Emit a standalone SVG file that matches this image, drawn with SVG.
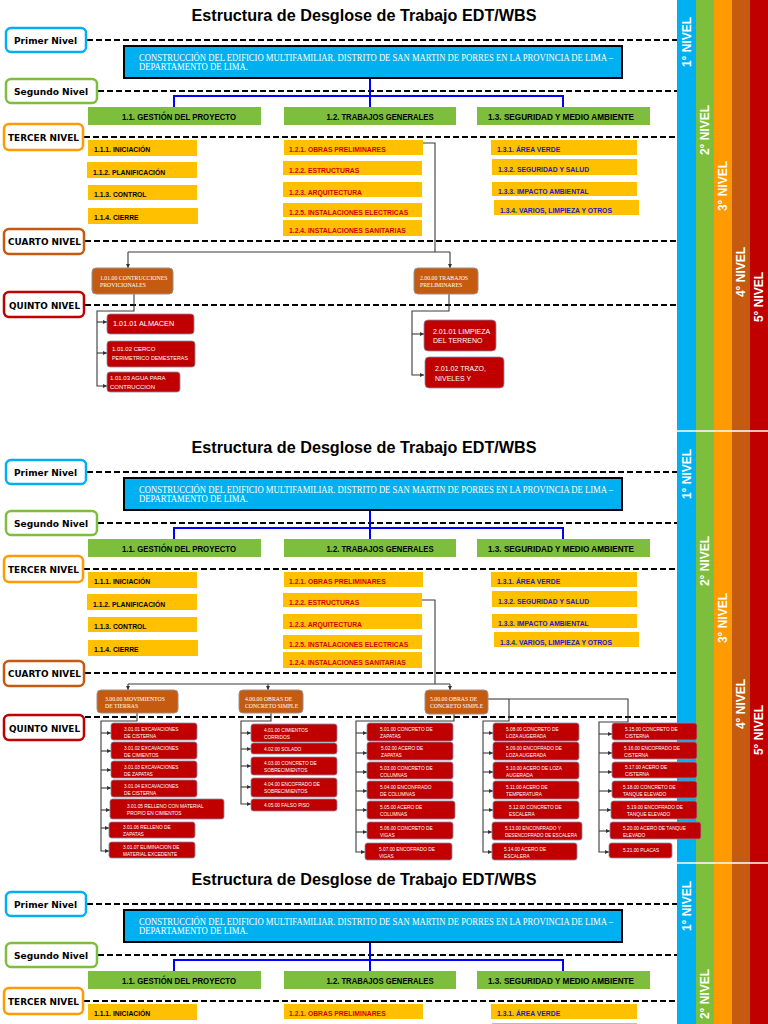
<svg xmlns="http://www.w3.org/2000/svg" width="768" height="1024" viewBox="0 0 768 1024">
<style>
.bg{fill:#fff}
.ttl{font-family:"Liberation Sans",Arial,sans-serif;font-weight:bold;font-size:16px;fill:#000;text-anchor:middle}
.lvl{fill:#fff;stroke-width:2.5}
.lvlt{font-family:"DejaVu Sans",Verdana,sans-serif;font-weight:bold;font-size:9px;fill:#000}
.dash{stroke:#000;stroke-width:2;stroke-dasharray:6 3;fill:none}
.top{fill:#00B0F0;stroke:#000;stroke-width:2}
.topt{font-family:"Liberation Serif","Times New Roman",serif;font-size:9.5px;fill:#fff}
.g2{fill:#7DBE3C}
.g2t{font-family:"Liberation Sans",Arial,sans-serif;font-weight:bold;font-size:9.5px;fill:#000;text-anchor:middle}
.y3{fill:#FFC000}
.y3t{font-family:"Liberation Sans",Arial,sans-serif;font-weight:bold;font-size:6.8px}
.tk{fill:#000}.tr{fill:#D00000}.tb{fill:#1A1AC8}
.n4{fill:#C55A11;stroke:#9a8f8a;stroke-width:1}
.n4t{font-family:"Liberation Serif","Times New Roman",serif;font-size:5.8px;fill:#fff}
.n5{fill:#C00000;stroke:#8a8aa8;stroke-width:0.8}
.n5t{font-family:"Liberation Sans",Arial,sans-serif;font-size:6px;fill:#fff}
.n5s{font-family:"Liberation Sans",Arial,sans-serif;font-size:4.8px;fill:#fff}
.blue{stroke:#0000FF;stroke-width:2;fill:none}
.con{stroke:#3a3a3a;stroke-width:1.1;fill:none}
.arr{marker-end:url(#ah)}
.bart{font-family:"Liberation Sans",Arial,sans-serif;font-weight:bold;font-size:12px;fill:#fff;text-anchor:middle}
</style>
<defs>
<marker id="ah" viewBox="0 0 8 8" refX="8" refY="4" markerWidth="4.5" markerHeight="4.5" orient="auto" markerUnits="userSpaceOnUse"><path d="M0,0 L8,4 L0,8 z" fill="#333"/></marker>
</defs>
<rect class="bg" x="0" y="0" width="768" height="1024"/>

<!-- level bars -->
<g id="level-bars">
<rect x="677" y="0" width="19" height="1024" fill="#00B0F0"/>
<rect x="696" y="0" width="18" height="1024" fill="#7DBE3C"/>
<rect x="714" y="0" width="18" height="1024" fill="#FF9A00"/>
<rect x="732" y="0" width="18" height="1024" fill="#C55A11"/>
<rect x="750" y="0" width="18" height="1024" fill="#C00000"/>
<line x1="677" y1="431" x2="768" y2="431" stroke="#fff" stroke-width="1.5"/>
<line x1="677" y1="863" x2="768" y2="863" stroke="#fff" stroke-width="1.5"/>
<text class="bart" transform="translate(691.3,42) rotate(-90)">1° NIVEL</text>
<text class="bart" transform="translate(709.3,130) rotate(-90)">2° NIVEL</text>
<text class="bart" transform="translate(727.3,186) rotate(-90)">3° NIVEL</text>
<text class="bart" transform="translate(745.3,272) rotate(-90)">4° NIVEL</text>
<text class="bart" transform="translate(763.3,297) rotate(-90)">5° NIVEL</text>
<text class="bart" transform="translate(691.3,474) rotate(-90)">1° NIVEL</text>
<text class="bart" transform="translate(709.3,561) rotate(-90)">2° NIVEL</text>
<text class="bart" transform="translate(727.3,618) rotate(-90)">3° NIVEL</text>
<text class="bart" transform="translate(745.3,704) rotate(-90)">4° NIVEL</text>
<text class="bart" transform="translate(763.3,730) rotate(-90)">5° NIVEL</text>
<text class="bart" transform="translate(691.3,906) rotate(-90)">1° NIVEL</text>
<text class="bart" transform="translate(709.3,994) rotate(-90)">2° NIVEL</text>
</g>

<!-- titles -->
<g id="titles">
<text class="ttl" x="364" y="21" textLength="345" lengthAdjust="spacingAndGlyphs">Estructura de Desglose de Trabajo EDT/WBS</text>
<text class="ttl" x="364" y="453" textLength="345" lengthAdjust="spacingAndGlyphs">Estructura de Desglose de Trabajo EDT/WBS</text>
<text class="ttl" x="364" y="885" textLength="345" lengthAdjust="spacingAndGlyphs">Estructura de Desglose de Trabajo EDT/WBS</text>
</g>

<!-- guides -->
<g id="level-guides">
<line class="dash" x1="87" y1="40" x2="677" y2="40"/>
<line class="dash" x1="98" y1="91" x2="677" y2="91"/>
<line class="dash" x1="84" y1="137" x2="677" y2="137"/>
<line class="dash" x1="85" y1="241" x2="677" y2="241"/>
<line class="dash" x1="85" y1="305" x2="677" y2="305"/>
<line class="dash" x1="87" y1="472" x2="677" y2="472"/>
<line class="dash" x1="98" y1="523" x2="677" y2="523"/>
<line class="dash" x1="84" y1="569" x2="677" y2="569"/>
<line class="dash" x1="85" y1="673" x2="677" y2="673"/>
<line class="dash" x1="85" y1="717" x2="677" y2="717"/>
<line class="dash" x1="87" y1="904" x2="677" y2="904"/>
<line class="dash" x1="98" y1="955" x2="677" y2="955"/>
<line class="dash" x1="84" y1="1001" x2="677" y2="1001"/>
</g>

<!-- level labels -->
<g id="lbl-primer-1"><rect class="lvl" x="6" y="28" width="80" height="24" rx="5" stroke="#00B0F0"/><text class="lvlt" x="14" y="43.6" textLength="63" lengthAdjust="spacingAndGlyphs">Primer Nivel</text></g>
<g id="lbl-segundo-1"><rect class="lvl" x="6" y="79" width="91" height="24" rx="5" stroke="#7DBE3C"/><text class="lvlt" x="14" y="94.6" textLength="74" lengthAdjust="spacingAndGlyphs">Segundo Nivel</text></g>
<g id="lbl-tercer-1"><rect class="lvl" x="4" y="124" width="79" height="26" rx="5" stroke="#FF9A00"/><text class="lvlt" x="8" y="140.6" textLength="71" lengthAdjust="spacingAndGlyphs">TERCER NIVEL</text></g>
<g id="lbl-cuarto-1"><rect class="lvl" x="4" y="229" width="80" height="25" rx="5" stroke="#C55A11"/><text class="lvlt" x="8" y="245" textLength="73" lengthAdjust="spacingAndGlyphs">CUARTO NIVEL</text></g>
<g id="lbl-quinto-1"><rect class="lvl" x="4" y="292" width="80" height="25" rx="5" stroke="#C00000"/><text class="lvlt" x="9" y="308.6" textLength="71" lengthAdjust="spacingAndGlyphs">QUINTO NIVEL</text></g>
<g id="lbl-primer-2"><rect class="lvl" x="6" y="460" width="80" height="24" rx="5" stroke="#00B0F0"/><text class="lvlt" x="14" y="475.6" textLength="63" lengthAdjust="spacingAndGlyphs">Primer Nivel</text></g>
<g id="lbl-segundo-2"><rect class="lvl" x="6" y="511" width="91" height="24" rx="5" stroke="#7DBE3C"/><text class="lvlt" x="14" y="526.6" textLength="74" lengthAdjust="spacingAndGlyphs">Segundo Nivel</text></g>
<g id="lbl-tercer-2"><rect class="lvl" x="4" y="556" width="79" height="26" rx="5" stroke="#FF9A00"/><text class="lvlt" x="8" y="572.6" textLength="71" lengthAdjust="spacingAndGlyphs">TERCER NIVEL</text></g>
<g id="lbl-cuarto-2"><rect class="lvl" x="4" y="661" width="80" height="25" rx="5" stroke="#C55A11"/><text class="lvlt" x="8" y="677" textLength="73" lengthAdjust="spacingAndGlyphs">CUARTO NIVEL</text></g>
<g id="lbl-quinto-2"><rect class="lvl" x="4" y="715" width="80" height="25" rx="5" stroke="#C00000"/><text class="lvlt" x="9" y="731.6" textLength="71" lengthAdjust="spacingAndGlyphs">QUINTO NIVEL</text></g>
<g id="lbl-primer-3"><rect class="lvl" x="6" y="892" width="80" height="24" rx="5" stroke="#00B0F0"/><text class="lvlt" x="14" y="907.6" textLength="63" lengthAdjust="spacingAndGlyphs">Primer Nivel</text></g>
<g id="lbl-segundo-3"><rect class="lvl" x="6" y="943" width="91" height="24" rx="5" stroke="#7DBE3C"/><text class="lvlt" x="14" y="958.6" textLength="74" lengthAdjust="spacingAndGlyphs">Segundo Nivel</text></g>
<g id="lbl-tercer-3"><rect class="lvl" x="4" y="988" width="79" height="26" rx="5" stroke="#FF9A00"/><text class="lvlt" x="8" y="1004.6" textLength="71" lengthAdjust="spacingAndGlyphs">TERCER NIVEL</text></g>

<!-- connectors -->
<g id="connectors">
<path class="blue" d="M370,78 V107 M174,107 V96 H563 V107"/>
<path class="blue" d="M370,510 V539 M174,539 V528 H563 V539"/>
<path class="blue" d="M370,942 V971 M174,971 V960 H563 V971"/>
<!-- section 1 -->
<path class="con" d="M422,143 H435 V252 M128,252 H450"/>
<path class="con arr" d="M128,252 V268"/>
<path class="con arr" d="M450,252 V268"/>
<path class="con arr" d="M134,294 V311 H97 V386 H107"/>
<path class="con arr" d="M97,322 H107"/>
<path class="con arr" d="M97,353 H107"/>
<path class="con arr" d="M449,294 V311 H412 V375 H424"/>
<path class="con arr" d="M412,334 H424"/>
<!-- section 2 -->
<path class="con" d="M422,600 H435 V684 M128,684 H450"/>
<path class="con arr" d="M128,684 V690"/>
<path class="con arr" d="M268,684 V690"/>
<path class="con arr" d="M450,684 V690"/>
<path class="con arr" d="M137,713 V721 H101 V851 H109"/>
<path class="con arr" d="M101,733 H111"/>
<path class="con arr" d="M101,751 H111"/>
<path class="con arr" d="M101,770 H111"/>
<path class="con arr" d="M101,788 H111"/>
<path class="con arr" d="M101,810 H110"/>
<path class="con arr" d="M101,828 H109"/>
<path class="con arr" d="M271,713 V721 H241 V804 H251"/>
<path class="con arr" d="M241,733 H251"/>
<path class="con arr" d="M241,749 H251"/>
<path class="con arr" d="M241,766 H251"/>
<path class="con arr" d="M241,787 H251"/>
<path class="con arr" d="M454,714 V721 H356 V852 H365"/>
<path class="con arr" d="M356,733 H367"/>
<path class="con arr" d="M356,753 H367"/>
<path class="con arr" d="M356,772 H367"/>
<path class="con arr" d="M356,791 H367"/>
<path class="con arr" d="M356,810 H367"/>
<path class="con arr" d="M356,832 H367"/>
<path class="con arr" d="M509,699 V721 H483 V852 H492"/>
<path class="con" d="M488,699 H509"/>
<path class="con arr" d="M483,733 H493"/>
<path class="con arr" d="M483,753 H493"/>
<path class="con arr" d="M483,772 H493"/>
<path class="con arr" d="M483,791 H493"/>
<path class="con arr" d="M483,810 H493"/>
<path class="con arr" d="M483,832 H492"/>
<path class="con arr" d="M509,699 H628 V722 H599 V852 H609"/>
<path class="con arr" d="M599,734 H612"/>
<path class="con arr" d="M599,753 H612"/>
<path class="con arr" d="M599,772 H612"/>
<path class="con arr" d="M599,791 H612"/>
<path class="con arr" d="M599,810 H611"/>
<path class="con arr" d="M599,831 H610"/>
</g>

<!-- ===== SECTION 1 ===== -->
<g id="root-1"><rect class="top" x="124" y="46" width="498" height="32"/>
<text class="topt" x="139" y="61" textLength="474" lengthAdjust="spacingAndGlyphs">CONSTRUCCIÓN DEL EDIFICIO MULTIFAMILIAR. DISTRITO DE SAN MARTIN DE PORRES EN LA PROVINCIA DE LIMA –</text>
<text class="topt" x="139" y="70" textLength="109" lengthAdjust="spacingAndGlyphs">DEPARTAMENTO DE LIMA.</text></g>
<g id="n1-1-s1"><rect class="g2" x="88" y="107" width="173" height="18"/><text class="g2t" x="179" y="120" textLength="114" lengthAdjust="spacingAndGlyphs">1.1. GESTIÓN DEL PROYECTO</text></g>
<g id="n1-2-s1"><rect class="g2" x="284" y="107" width="172" height="18"/><text class="g2t" x="380" y="120" textLength="107" lengthAdjust="spacingAndGlyphs">1.2. TRABAJOS GENERALES</text></g>
<g id="n1-3-s1"><rect class="g2" x="477" y="107" width="173" height="18"/><text class="g2t" x="561" y="120" textLength="146" lengthAdjust="spacingAndGlyphs">1.3. SEGURIDAD Y MEDIO AMBIENTE</text></g>

<g id="n111-s1"><rect class="y3" x="88" y="140" width="109" height="16"/><text class="y3t tk" x="94" y="151.5">1.1.1. INICIACIÓN</text></g>
<g id="n112-s1"><rect class="y3" x="87" y="162" width="110" height="16"/><text class="y3t tk" x="93" y="174.5">1.1.2. PLANIFICACIÓN</text></g>
<g id="n113-s1"><rect class="y3" x="88" y="185" width="109" height="15"/><text class="y3t tk" x="94" y="196.5">1.1.3. CONTROL</text></g>
<g id="n114-s1"><rect class="y3" x="88" y="208" width="110" height="16"/><text class="y3t tk" x="94" y="220">1.1.4. CIERRE</text></g>
<g id="n121-s1"><rect class="y3" x="284" y="140" width="139" height="15"/><text class="y3t tr" x="289" y="151.5">1.2.1. OBRAS PRELIMINARES</text></g>
<g id="n122-s1"><rect class="y3" x="283" y="161" width="139" height="14"/><text class="y3t tr" x="289" y="172.5">1.2.2. ESTRUCTURAS</text></g>
<g id="n123-s1"><rect class="y3" x="283" y="182" width="139" height="15"/><text class="y3t tr" x="289" y="194.5">1.2.3. ARQUITECTURA</text></g>
<g id="n125-s1"><rect class="y3" x="283" y="203" width="139" height="14"/><text class="y3t tr" x="289" y="214.5">1.2.5. INSTALACIONES ELECTRICAS</text></g>
<g id="n124-s1"><rect class="y3" x="283" y="220" width="139" height="16"/><text class="y3t tr" x="289" y="232.5">1.2.4. INSTALACIONES SANITARIAS</text></g>
<g id="n131-s1"><rect class="y3" x="491" y="140" width="146" height="15"/><text class="y3t tb" x="497" y="151.5">1.3.1. ÁREA VERDE</text></g>
<g id="n132-s1"><rect class="y3" x="492" y="159" width="145" height="16"/><text class="y3t tb" x="498" y="171.5">1.3.2. SEGURIDAD Y SALUD</text></g>
<g id="n133-s1"><rect class="y3" x="492" y="182" width="145" height="14"/><text class="y3t tb" x="498" y="193.5">1.3.3. IMPACTO AMBIENTAL</text></g>
<g id="n134-s1"><rect class="y3" x="494" y="200" width="145" height="15"/><text class="y3t tb" x="500" y="212.5">1.3.4. VARIOS, LIMPIEZA Y OTROS</text></g>

<g id="n10100"><rect class="n4" x="92" y="268" width="81" height="26" rx="4"/><text class="n4t" x="100" y="279.5">1.01.00 CONTRUCCIONES</text><text class="n4t" x="100" y="286.5">PROVICIONALES</text></g>
<g id="n20000"><rect class="n4" x="414" y="268" width="64" height="26" rx="4"/><text class="n4t" x="420" y="279.5">2.00.00 TRABAJOS</text><text class="n4t" x="420" y="286.5">PRELIMINARES</text></g>

<g id="n10101"><rect class="n5" x="107" y="314" width="87" height="20" rx="3"/><text class="n5t" x="113" y="326" style="font-size:7.3px">1.01.01 ALMACEN</text></g>
<g id="n10102"><rect class="n5" x="107" y="341" width="88" height="26" rx="3"/><text class="n5t" x="112" y="350.5">1.01.02 CERCO</text><text class="n5t" x="112" y="360" textLength="76" lengthAdjust="spacingAndGlyphs">PERIMETRICO DEMESTERAS</text></g>
<g id="n10103"><rect class="n5" x="107" y="372" width="73" height="20" rx="3"/><text class="n5t" x="110" y="379.5">1.01.03 AGUA PARA</text><text class="n5t" x="110" y="388.5">CONTRUCCION</text></g>
<g id="n20101"><rect class="n5" x="424" y="320" width="72" height="31" rx="4"/><text class="n5t" x="433" y="333.5" style="font-size:7px">2.01.01 LIMPIEZA</text><text class="n5t" x="433" y="343" style="font-size:7px">DEL TERRENO</text></g>
<g id="n20102"><rect class="n5" x="425" y="357" width="79" height="31" rx="4"/><text class="n5t" x="435" y="371" style="font-size:7px">2.01.02 TRAZO,</text><text class="n5t" x="435" y="381" style="font-size:7px">NIVELES Y</text></g>

<!-- ===== SECTION 2 ===== -->
<g id="root-2"><rect class="top" x="124" y="478" width="498" height="32"/>
<text class="topt" x="139" y="493" textLength="474" lengthAdjust="spacingAndGlyphs">CONSTRUCCIÓN DEL EDIFICIO MULTIFAMILIAR. DISTRITO DE SAN MARTIN DE PORRES EN LA PROVINCIA DE LIMA –</text>
<text class="topt" x="139" y="502" textLength="109" lengthAdjust="spacingAndGlyphs">DEPARTAMENTO DE LIMA.</text></g>
<g id="n1-1-s2"><rect class="g2" x="88" y="539" width="173" height="18"/><text class="g2t" x="179" y="552" textLength="114" lengthAdjust="spacingAndGlyphs">1.1. GESTIÓN DEL PROYECTO</text></g>
<g id="n1-2-s2"><rect class="g2" x="284" y="539" width="172" height="18"/><text class="g2t" x="380" y="552" textLength="107" lengthAdjust="spacingAndGlyphs">1.2. TRABAJOS GENERALES</text></g>
<g id="n1-3-s2"><rect class="g2" x="477" y="539" width="173" height="18"/><text class="g2t" x="561" y="552" textLength="146" lengthAdjust="spacingAndGlyphs">1.3. SEGURIDAD Y MEDIO AMBIENTE</text></g>

<g id="n111-s2"><rect class="y3" x="88" y="572" width="109" height="16"/><text class="y3t tk" x="94" y="583.5">1.1.1. INICIACIÓN</text></g>
<g id="n112-s2"><rect class="y3" x="87" y="594" width="110" height="16"/><text class="y3t tk" x="93" y="606.5">1.1.2. PLANIFICACIÓN</text></g>
<g id="n113-s2"><rect class="y3" x="88" y="617" width="109" height="15"/><text class="y3t tk" x="94" y="628.5">1.1.3. CONTROL</text></g>
<g id="n114-s2"><rect class="y3" x="88" y="640" width="110" height="16"/><text class="y3t tk" x="94" y="652">1.1.4. CIERRE</text></g>
<g id="n121-s2"><rect class="y3" x="284" y="572" width="139" height="15"/><text class="y3t tr" x="289" y="583.5">1.2.1. OBRAS PRELIMINARES</text></g>
<g id="n122-s2"><rect class="y3" x="283" y="593" width="139" height="14"/><text class="y3t tr" x="289" y="604.5">1.2.2. ESTRUCTURAS</text></g>
<g id="n123-s2"><rect class="y3" x="283" y="614" width="139" height="15"/><text class="y3t tr" x="289" y="626.5">1.2.3. ARQUITECTURA</text></g>
<g id="n125-s2"><rect class="y3" x="283" y="635" width="139" height="14"/><text class="y3t tr" x="289" y="646.5">1.2.5. INSTALACIONES ELECTRICAS</text></g>
<g id="n124-s2"><rect class="y3" x="283" y="652" width="139" height="16"/><text class="y3t tr" x="289" y="664.5">1.2.4. INSTALACIONES SANITARIAS</text></g>
<g id="n131-s2"><rect class="y3" x="491" y="572" width="146" height="15"/><text class="y3t tb" x="497" y="583.5">1.3.1. ÁREA VERDE</text></g>
<g id="n132-s2"><rect class="y3" x="492" y="591" width="145" height="16"/><text class="y3t tb" x="498" y="603.5">1.3.2. SEGURIDAD Y SALUD</text></g>
<g id="n133-s2"><rect class="y3" x="492" y="614" width="145" height="14"/><text class="y3t tb" x="498" y="625.5">1.3.3. IMPACTO AMBIENTAL</text></g>
<g id="n134-s2"><rect class="y3" x="494" y="632" width="145" height="15"/><text class="y3t tb" x="500" y="644.5">1.3.4. VARIOS, LIMPIEZA Y OTROS</text></g>

<g id="n30000"><rect class="n4" x="97" y="690" width="81" height="23" rx="4"/><text class="n4t" x="105" y="700.5">3.00.00 MOVIMIENTOS</text><text class="n4t" x="105" y="707.5">DE TIERRAS</text></g>
<g id="n40000"><rect class="n4" x="239" y="690" width="64" height="23" rx="4"/><text class="n4t" x="245" y="700.5">4.00.00 OBRAS DE</text><text class="n4t" x="245" y="707.5">CONCRETO SIMPLE</text></g>
<g id="n50000"><rect class="n4" x="425" y="690" width="63" height="24" rx="4"/><text class="n4t" x="430" y="700.5">5.00.00 OBRAS DE</text><text class="n4t" x="430" y="708">CONCRETO SIMPLE</text></g>

<g id="n30101"><rect class="n5" x="111" y="723" width="86" height="17" rx="2.5"/><text class="n5s" x="124" y="730.5">3.01.01 EXCAVACIONES</text><text class="n5s" x="124" y="737.5">DE CISTERNA</text></g>
<g id="n30102"><rect class="n5" x="111" y="742" width="86" height="17" rx="2.5"/><text class="n5s" x="124" y="749.5">3.01.02 EXCAVACIONES</text><text class="n5s" x="124" y="756.5">DE CIMIENTOS</text></g>
<g id="n30103"><rect class="n5" x="111" y="761" width="86" height="17" rx="2.5"/><text class="n5s" x="124" y="768.5">3.01.03 EXCAVACIONES</text><text class="n5s" x="124" y="775.5">DE ZAPATAS</text></g>
<g id="n30104"><rect class="n5" x="111" y="780" width="86" height="17" rx="2.5"/><text class="n5s" x="124" y="787.5">3.01.04 EXCAVACIONES</text><text class="n5s" x="124" y="794.5">DE CISTERNA</text></g>
<g id="n30105"><rect class="n5" x="110" y="799" width="114" height="20" rx="2.5"/><text class="n5s" x="127" y="807.5">3.01.05 RELLENO CON MATERIAL</text><text class="n5s" x="127" y="814.5">PROPIO EN CIMIENTOS</text></g>
<g id="n30106"><rect class="n5" x="109" y="822" width="86" height="16" rx="2.5"/><text class="n5s" x="123" y="828.5">3.01.06 RELLENO DE</text><text class="n5s" x="123" y="836">ZAPATAS</text></g>
<g id="n30107"><rect class="n5" x="109" y="842" width="86" height="16" rx="2.5"/><text class="n5s" x="123" y="849">3.01.07 ELIMINACION DE</text><text class="n5s" x="123" y="856">MATERIAL EXCEDENTE</text></g>

<g id="n40100"><rect class="n5" x="251" y="724" width="86" height="18" rx="2.5"/><text class="n5s" x="264" y="731.5">4.01.00 CIMIENTOS</text><text class="n5s" x="264" y="738.5">CORRIDOS</text></g>
<g id="n40200"><rect class="n5" x="251" y="743" width="86" height="11" rx="2.5"/><text class="n5s" x="264" y="750.5">4.02.00 SOLADO</text></g>
<g id="n40300"><rect class="n5" x="251" y="757" width="86" height="18" rx="2.5"/><text class="n5s" x="264" y="764.5">4.03.00 CONCRETO DE</text><text class="n5s" x="264" y="771.5">SOBRECIMIENTOS</text></g>
<g id="n40400"><rect class="n5" x="251" y="778" width="86" height="19" rx="2.5"/><text class="n5s" x="264" y="785.5">4.04.00 ENCOFRADO DE</text><text class="n5s" x="264" y="793">SOBRECIMIENTOS</text></g>
<g id="n40500"><rect class="n5" x="251" y="799" width="86" height="12" rx="2.5"/><text class="n5s" x="264" y="806.5">4.05.00 FALSO PISO</text></g>

<g id="n50100"><rect class="n5" x="367" y="723" width="86" height="18" rx="2.5"/><text class="n5s" x="380" y="730.5">5.01.00 CONCRETO DE</text><text class="n5s" x="380" y="737.5">ZAPATAS</text></g>
<g id="n50200"><rect class="n5" x="367" y="742" width="86" height="18" rx="2.5"/><text class="n5s" x="381" y="749.5">5.02.00 ACERO DE</text><text class="n5s" x="381" y="756.5">ZAPATAS</text></g>
<g id="n50300"><rect class="n5" x="367" y="762" width="86" height="17" rx="2.5"/><text class="n5s" x="380" y="769.5">5.03.00 CONCRETO DE</text><text class="n5s" x="380" y="776.5">COLUMNAS</text></g>
<g id="n50400"><rect class="n5" x="367" y="781" width="86" height="18" rx="2.5"/><text class="n5s" x="380" y="788.5">5.04.00 ENCONFRADO</text><text class="n5s" x="380" y="795.5">DE COLUMNAS</text></g>
<g id="n50500"><rect class="n5" x="367" y="801" width="88" height="18" rx="2.5"/><text class="n5s" x="380" y="808.5">5.05.00 ACERO DE</text><text class="n5s" x="380" y="815.5">COLUMNAS</text></g>
<g id="n50600"><rect class="n5" x="367" y="822" width="86" height="17" rx="2.5"/><text class="n5s" x="380" y="829.5">5.06.00 CONCRETO DE</text><text class="n5s" x="380" y="836.5">VIGAS</text></g>
<g id="n50700"><rect class="n5" x="365" y="843" width="87" height="17" rx="2.5"/><text class="n5s" x="379" y="850.5">5.07.00 ENCOFRADO DE</text><text class="n5s" x="379" y="857.5">VIGAS</text></g>

<g id="n50800"><rect class="n5" x="493" y="723" width="86" height="18" rx="2.5"/><text class="n5s" x="506" y="730.5">5.08.00 CONCRETO DE</text><text class="n5s" x="506" y="737.5">LOZA AUGERADA</text></g>
<g id="n50900"><rect class="n5" x="493" y="742" width="86" height="18" rx="2.5"/><text class="n5s" x="506" y="749.5">5.09.00 ENCOFRADO DE</text><text class="n5s" x="506" y="756.5">LOZA AUGERADA</text></g>
<g id="n51000"><rect class="n5" x="493" y="762" width="86" height="17" rx="2.5"/><text class="n5s" x="506" y="769.5">5.10.00 ACERO DE LOZA</text><text class="n5s" x="506" y="776.5">AUGERADA</text></g>
<g id="n51100"><rect class="n5" x="493" y="781" width="86" height="18" rx="2.5"/><text class="n5s" x="506" y="788.5">5.11.00 ACERO DE</text><text class="n5s" x="506" y="795.5">TEMPERATURA</text></g>
<g id="n51200"><rect class="n5" x="493" y="801" width="86" height="18" rx="2.5"/><text class="n5s" x="509" y="808.5">5.12.00 CONCRETO DE</text><text class="n5s" x="509" y="815.5">ESCALERA</text></g>
<g id="n51300"><rect class="n5" x="492" y="822" width="90" height="18" rx="2.5"/><text class="n5s" x="505" y="829.5">5.13.00 ENCONFRADO Y</text><text class="n5s" x="505" y="836.5" textLength="72" lengthAdjust="spacingAndGlyphs">DESENCOFRADO DE ESCALERA</text></g>
<g id="n51400"><rect class="n5" x="492" y="843" width="85" height="17" rx="2.5"/><text class="n5s" x="504" y="850.5">5.14.00 ACERO DE</text><text class="n5s" x="504" y="857.5">ESCALERA</text></g>

<g id="n51500"><rect class="n5" x="612" y="723" width="85" height="17" rx="2.5"/><text class="n5s" x="625" y="730.5">5.15.00 CONCRETO DE</text><text class="n5s" x="625" y="737.5">CISTERNA</text></g>
<g id="n51600"><rect class="n5" x="612" y="742" width="85" height="17" rx="2.5"/><text class="n5s" x="624" y="749.5">5.16.00 ENCOFRADO DE</text><text class="n5s" x="624" y="756.5">CISTERNA</text></g>
<g id="n51700"><rect class="n5" x="612" y="762" width="85" height="16" rx="2.5"/><text class="n5s" x="625" y="769">5.17.00 ACERO DE</text><text class="n5s" x="625" y="776">CISTERNA</text></g>
<g id="n51800"><rect class="n5" x="612" y="781" width="85" height="17" rx="2.5"/><text class="n5s" x="623" y="788.5">5.18.00 CONCRETO DE</text><text class="n5s" x="623" y="795.5">TANQUE ELEVADO</text></g>
<g id="n51900"><rect class="n5" x="611" y="801" width="86" height="18" rx="2.5"/><text class="n5s" x="627" y="808.5">5.19.00 ENCOFRADO DE</text><text class="n5s" x="627" y="815.5">TANQUE ELEVADO</text></g>
<g id="n52000"><rect class="n5" x="610" y="822" width="91" height="17" rx="2.5"/><text class="n5s" x="623" y="829.5">5.20.00 ACERO DE TANQUE</text><text class="n5s" x="623" y="836.5">ELEVADO</text></g>
<g id="n52100"><rect class="n5" x="609" y="843" width="63" height="15" rx="2.5"/><text class="n5s" x="623" y="852">5.21.00 PLACAS</text></g>

<!-- ===== SECTION 3 ===== -->
<g id="root-3"><rect class="top" x="124" y="910" width="498" height="32"/>
<text class="topt" x="139" y="925" textLength="474" lengthAdjust="spacingAndGlyphs">CONSTRUCCIÓN DEL EDIFICIO MULTIFAMILIAR. DISTRITO DE SAN MARTIN DE PORRES EN LA PROVINCIA DE LIMA –</text>
<text class="topt" x="139" y="934" textLength="109" lengthAdjust="spacingAndGlyphs">DEPARTAMENTO DE LIMA.</text></g>
<g id="n1-1-s3"><rect class="g2" x="88" y="971" width="173" height="18"/><text class="g2t" x="179" y="984" textLength="114" lengthAdjust="spacingAndGlyphs">1.1. GESTIÓN DEL PROYECTO</text></g>
<g id="n1-2-s3"><rect class="g2" x="284" y="971" width="172" height="18"/><text class="g2t" x="380" y="984" textLength="107" lengthAdjust="spacingAndGlyphs">1.2. TRABAJOS GENERALES</text></g>
<g id="n1-3-s3"><rect class="g2" x="477" y="971" width="173" height="18"/><text class="g2t" x="561" y="984" textLength="146" lengthAdjust="spacingAndGlyphs">1.3. SEGURIDAD Y MEDIO AMBIENTE</text></g>
<g id="n111-s3"><rect class="y3" x="88" y="1004" width="109" height="16"/><text class="y3t tk" x="94" y="1015.5">1.1.1. INICIACIÓN</text></g>
<g id="n121-s3"><rect class="y3" x="284" y="1004" width="139" height="15"/><text class="y3t tr" x="289" y="1015.5">1.2.1. OBRAS PRELIMINARES</text></g>
<g id="n131-s3"><rect class="y3" x="491" y="1004" width="146" height="15"/><text class="y3t tb" x="497" y="1015.5">1.3.1. ÁREA VERDE</text></g>
<g id="n132-s3"><rect class="y3" x="492" y="1023" width="145" height="16"/></g>
</svg>
